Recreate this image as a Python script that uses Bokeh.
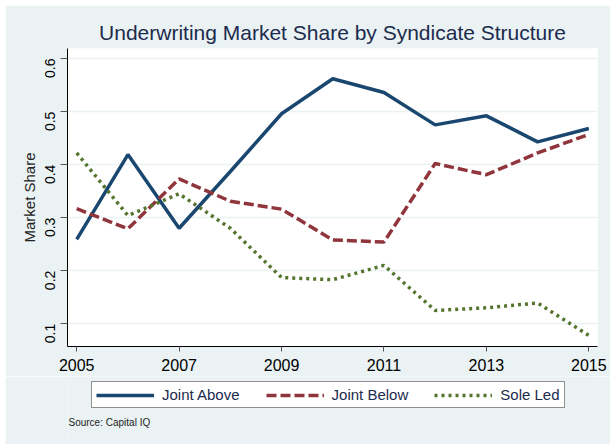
import math
from bokeh.plotting import figure
from bokeh.layouts import column
from bokeh.models import Legend, LegendItem, Label, Range1d, FixedTicker
from bokeh.embed import file_html
from bokeh.resources import INLINE

years = [2005, 2006, 2007, 2008, 2009, 2010, 2011, 2012, 2013, 2014, 2015]
joint_above = [0.259, 0.419, 0.280, 0.387, 0.496, 0.562, 0.536, 0.475, 0.492, 0.443, 0.468]
joint_below = [0.317, 0.279, 0.373, 0.331, 0.316, 0.258, 0.254, 0.402, 0.381, 0.422, 0.457]
sole_led = [0.422, 0.304, 0.345, 0.280, 0.187, 0.183, 0.210, 0.125, 0.130, 0.139, 0.078]
series_names = ["Joint Above", "Joint Below", "Sole Led"]
x_ticks = [2005, 2007, 2009, 2011, 2013, 2015]
y_ticks = [0.1, 0.2, 0.3, 0.4, 0.5, 0.6]

BG = "#EAF2F3"
NAVY = "#1A476F"
MAROON = "#90353B"
GREEN = "#55752F"
TXT = "#1c2b4d"
FONT = "Liberation Sans"
styles = [dict(line_color=NAVY, line_width=3.5),
          dict(line_color=MAROON, line_width=3.5, line_dash="10 4"),
          dict(line_color=GREEN, line_width=3.5, line_dash="3 4")]
series = [joint_above, joint_below, sole_led]

p = figure(width=605, height=371, output_backend="svg", toolbar_location=None,
           x_range=Range1d(2004.82, 2015.17), y_range=Range1d(0.057, 0.619),
           min_border_left=62, min_border_right=13, min_border_top=43, min_border_bottom=30,
           background_fill_color="white", border_fill_color=BG)
p.outline_line_color = None

p.title.text = "Underwriting Market Share by Syndicate Structure"
p.title.align = "center"
p.title.text_font = FONT
p.title.text_font_size = "21px"
p.title.text_font_style = "normal"
p.title.text_color = TXT
p.title.standoff = 9

p.xaxis.ticker = FixedTicker(ticks=x_ticks)
p.yaxis.ticker = FixedTicker(ticks=y_ticks)
p.yaxis.formatter.use_scientific = False
for ax in (p.xaxis, p.yaxis):
    ax.axis_line_color = "black"
    ax.major_tick_line_color = "#555555"
    ax.minor_tick_line_color = None
    ax.major_tick_in = 0
    ax.major_label_text_font = FONT
    ax.major_label_text_color = "black"
p.xaxis.major_tick_out = 5
p.xaxis.major_label_text_font_size = "16px"
p.xaxis.major_label_standoff = 7
p.yaxis.major_tick_out = 7
p.yaxis.major_label_text_font_size = "14px"
p.yaxis.major_label_orientation = math.pi / 2
p.yaxis.major_label_standoff = 10
p.yaxis.axis_label = "Market Share"
p.yaxis.axis_label_text_font = FONT
p.yaxis.axis_label_text_font_size = "15px"
p.yaxis.axis_label_text_font_style = "normal"
p.yaxis.axis_label_text_color = "#222222"
p.yaxis.axis_label_standoff = 0

p.xgrid.grid_line_color = None
p.ygrid.grid_line_color = BG
p.ygrid.grid_line_width = 1.5

for vals, st in zip(series, styles):
    p.line(years, vals, **st)

# lower strip: legend + source note (frame aligned with the main plot's frame)
p2 = figure(width=605, height=68, output_backend="svg", toolbar_location=None,
            x_range=Range1d(0, 1), y_range=Range1d(0, 1),
            min_border=0, background_fill_color=BG, border_fill_color=BG)
p2.outline_line_color = None
p2.axis.visible = False
p2.grid.visible = False

items = []
for name, vals, st in zip(series_names, series, styles):
    r = p2.line(years, vals, **st)  # lies outside this strip's ranges; used for the legend keys
    items.append(LegendItem(label=name, renderers=[r]))

legend = Legend(items=items, orientation="horizontal", location=(24, 36),
                glyph_width=58, glyph_height=14, label_standoff=8, spacing=26,
                padding=4, margin=0,
                label_text_font=FONT, label_text_font_size="15px", label_text_color=TXT,
                label_height=14,
                border_line_color="#222222", border_line_width=1,
                background_fill_color="white", background_fill_alpha=1)
p2.add_layout(legend, "center")

src = Label(x=1, y=22, x_units="screen", y_units="screen", text="Source: Capital IQ",
            text_font=FONT, text_font_size="10px", text_color="#222222",
            text_baseline="middle", text_align="left")
p2.add_layout(src)

lay = column(p, p2, spacing=0, margin=(5, 0, 0, 5))
open("out.html", "w").write(file_html(lay, INLINE))
